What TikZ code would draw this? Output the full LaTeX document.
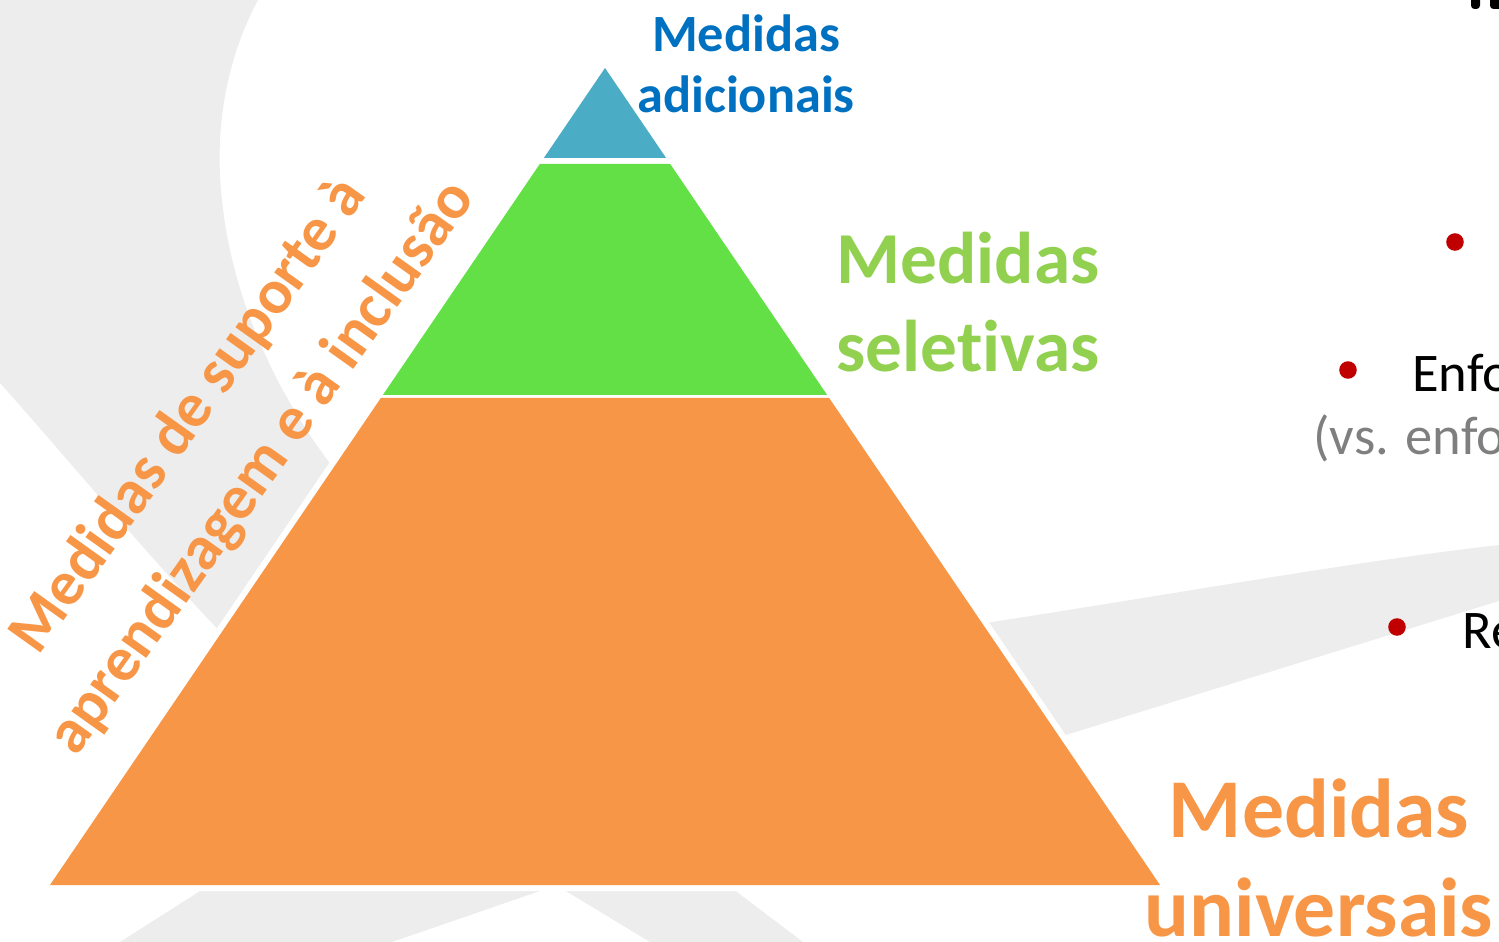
\documentclass[tikz,border=0pt]{standalone}
\usepackage{fontspec}
\setmainfont{Carlito}[Ligatures=NoCommon]
\usetikzlibrary{calc}
\definecolor{pyrblue}{HTML}{4BACC6}
\definecolor{pyrgreen}{HTML}{62E046}
\definecolor{pyrorange}{HTML}{F79646}
\definecolor{txtblue}{HTML}{0070C0}
\definecolor{txtgreen}{HTML}{92D050}
\definecolor{swoosh}{HTML}{EDEDED}
\definecolor{bulletred}{HTML}{C00000}
\definecolor{notegray}{HTML}{7F7F7F}
\tikzset{
  lbl/.style={inner sep=0pt, align=center},
  line/.style={inner sep=0pt, anchor=base west, font=\fontsize{31}{37}\selectfont},
  dot/.style={circle, fill=bulletred, inner sep=0pt, minimum size=10}
}

\begin{document}
\begin{tikzpicture}[x=0.02cm,y=-0.02cm]
    \useasboundingbox (0,0) rectangle (1499,942);
    \clip (0,0) rectangle (1499,942);

    % grey swooshes behind everything
    \fill[swoosh] (0,0) -- (258,0) .. controls (226,60) and (214,130) .. (222,200)
        .. controls (232,300) and (280,410) .. (360,500) -- (300,640) -- (230,642)
        .. controls (160,570) and (60,450) .. (0,383) -- cycle;
    \fill[swoosh] (960,627) .. controls (1200,590) and (1350,562) .. (1499,545)
        -- (1499,601) -- (1040,743) -- cycle;
    \fill[swoosh] (233,870) -- (601,870) -- (392,942) -- (120,942) -- cycle;
    \fill[swoosh] (531,870) -- (708,870) -- (803,942) -- (650,942) -- cycle;

    % pyramid
    \coordinate (apex) at (605,68);
    \coordinate (bl) at (50,885);
    \coordinate (br) at (1160,885);
    \filldraw[white, line width=7pt, line join=round] (apex) -- (bl) -- (br) -- cycle;
    \fill[pyrblue] (apex) -- ($(apex)!0.110!(br)$) -- ($(apex)!0.110!(bl)$) -- cycle;
    \fill[pyrgreen] ($(apex)!0.1175!(bl)$) -- ($(apex)!0.1175!(br)$)
        -- ($(apex)!0.400!(br)$) -- ($(apex)!0.400!(bl)$) -- cycle;
    \fill[pyrorange] ($(apex)!0.4039!(bl)$) -- ($(apex)!0.4039!(br)$) -- (br) -- (bl) -- cycle;

    % tier labels
    \node[lbl, text=txtblue, font=\bfseries\fontsize{29.8}{34.6}\selectfont] (adic) at (746,64) {Medidas\\adicionais};
    \node[lbl, text=txtgreen, font=\bfseries\fontsize{41.7}{49.9}\selectfont] (selet) at (968,302) {Medidas\\seletivas};
    \node[lbl, text=pyrorange, font=\bfseries\fontsize{47.6}{56.7}\selectfont] (univ) at (1319,858) {Medidas\\universais};
    \node[lbl, text=pyrorange, rotate=54.5, font=\bfseries\fontsize{35.8}{51}\selectfont] (suporte) at (226,442)
        {Medidas de suporte à\\aprendizagem e à inclusão};

    % bullets on the right, cut by the page edge
    \node[dot] (b1) at (1455,242) {};
    \node[dot] (b2) at (1348,370) {};
    \node[dot] (b3) at (1397,627) {};
    \node[line] (enfo) at (1412,392) {Enfo};
    \node[line, text=notegray] (vs) at (1313,455) {(vs. enfo};
    \node[line] (re) at (1462,648) {Re};

    % foot of the title
    \fill[black, rounded corners=2] (1471,-5) rectangle (1480,9);
    \fill[black, rounded corners=2] (1490,-5) rectangle (1510,9);
\end{tikzpicture}
\end{document}
